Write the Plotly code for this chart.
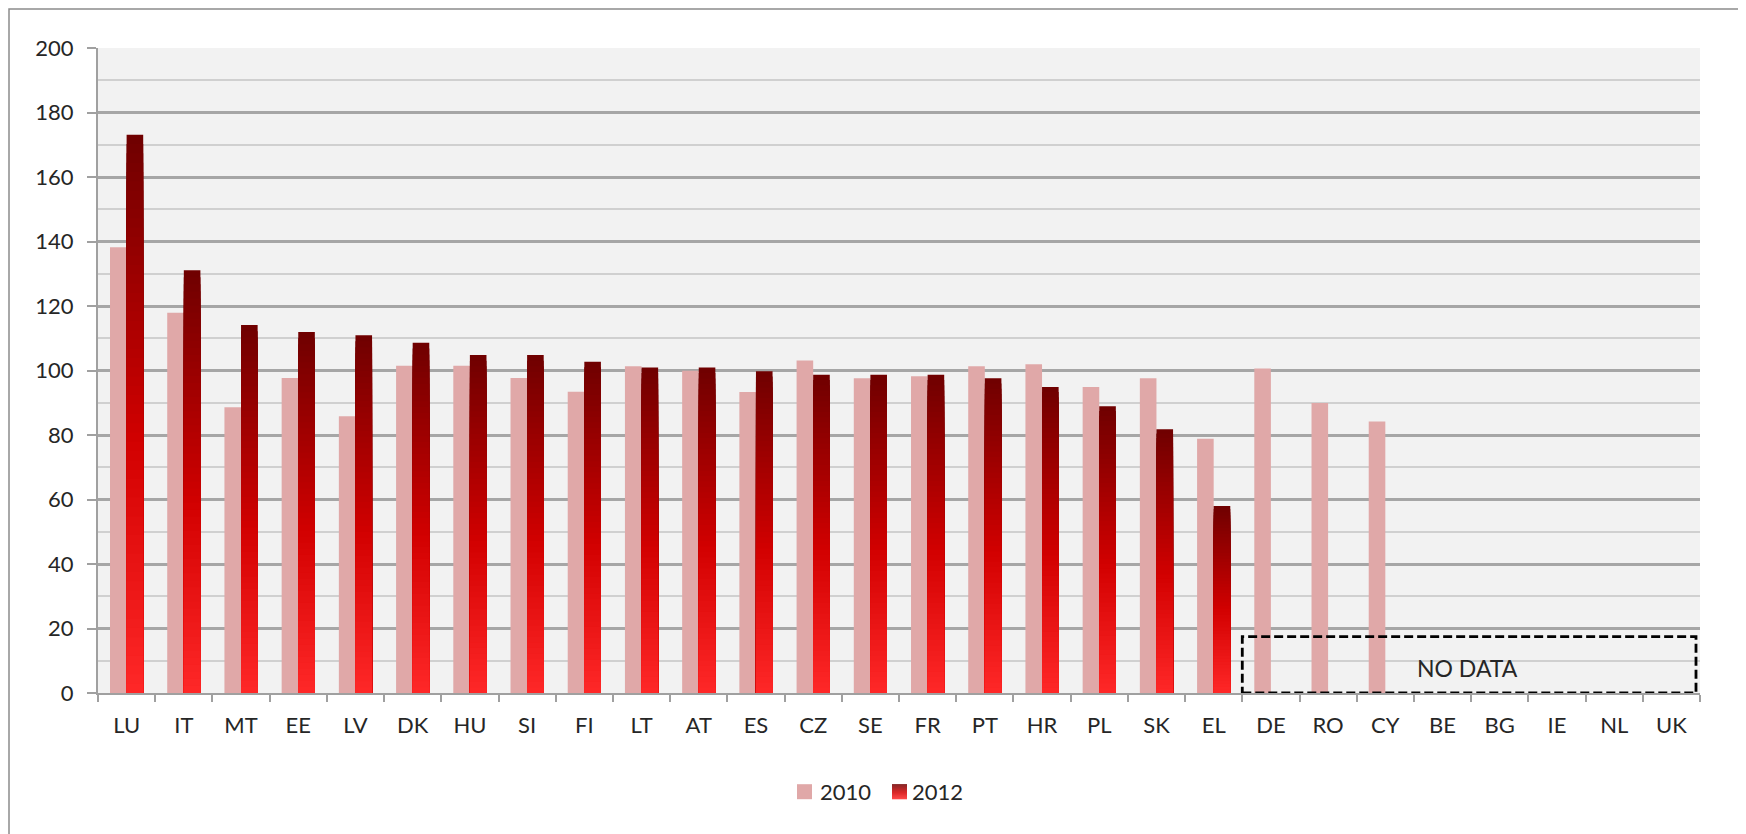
import plotly.graph_objects as go

countries = ["LU", "IT", "MT", "EE", "LV", "DK", "HU", "SI", "FI", "LT", "AT", "ES", "CZ", "SE",
             "FR", "PT", "HR", "PL", "SK", "EL", "DE", "RO", "CY", "BE", "BG", "IE", "NL", "UK"]
values_2010 = [138.2, 117.9, 88.6, 97.7, 85.8, 101.5, 101.5, 97.7, 93.4, 101.3, 99.9, 93.3, 103.1, 97.6,
               98.2, 101.3, 101.9, 94.9, 97.6, 78.8, 100.6, 89.9, 84.2, None, None, None, None, None]
values_2012 = [173.1, 131.1, 114.1, 111.9, 110.9, 108.6, 104.8, 104.8, 102.7, 100.9, 100.9, 99.8, 98.7, 98.7,
               98.7, 97.6, 94.9, 88.9, 81.8, 58.0, None, None, None, None, None, None, None, None]
years = ["2010", "2012"]
no_data_label = "NO DATA"

# page body has an 8px margin, so the figure is drawn offset by that much
OFF = 8
W, H = 1746 - OFF, 834 - OFF
ML, MR, MT, MB = 98 - OFF, 46, 48 - OFF, 141
PW, PH = W - ML - MR, H - MT - MB

FONT = "Lato, 'Open Sans', sans-serif"
TEXT = "#262626"
PINK = "#e0a8a8"

# gradient for the 2012 bars: bright red at the base, dark red at the top
STOPS = [(0.0, (255, 40, 40)), (0.45, (210, 0, 0)), (1.0, (110, 0, 0))]


def grad(t):
    for (t0, c0), (t1, c1) in zip(STOPS, STOPS[1:]):
        if t <= t1:
            f = (t - t0) / (t1 - t0)
            return "rgb(%d,%d,%d)" % tuple(round(a + (b - a) * f) for a, b in zip(c0, c1))
    return "rgb(%d,%d,%d)" % STOPS[-1][1]


# screen pixel -> paper fraction
def px(x):
    return (x - OFF - ML) / PW


def py(y):
    return (H - MB - (y - OFF)) / PH


fig = go.Figure()
fig.add_trace(go.Bar(x=countries, y=values_2010, name=years[0], marker=dict(color=PINK, line_width=0),
                     offsetgroup="a", showlegend=False))

N = 60
for k in range(N):
    frac = (N - k) / N
    ys = [None if v is None else v * frac for v in values_2012]
    fig.add_trace(go.Bar(x=countries, y=ys, name=years[1], offsetgroup="b",
                         marker=dict(color=grad((N - k - 0.5) / N), line_width=0),
                         showlegend=False, hoverinfo="skip" if k else None))

# NO DATA box
fig.add_shape(type="rect", xref="x", yref="y", x0=19.5, x1=27.43, y0=0, y1=17.5,
              line=dict(color="black", width=2.8, dash="9px,4px"), layer="above")
fig.add_annotation(x=23.43, y=7.9, xref="x", yref="y", text=no_data_label, showarrow=False,
                   font=dict(family=FONT, size=23, color=TEXT))

# outer chart border
fig.add_shape(type="rect", xref="paper", yref="paper", x0=px(9), x1=px(1745), y0=py(9), y1=py(845),
              line=dict(color="#8c8c8c", width=1.5))

# legend
sw = 15
cy = 791.7
fig.add_shape(type="rect", xref="paper", yref="paper", x0=px(797), x1=px(797 + sw),
              y0=py(cy - sw / 2), y1=py(cy + sw / 2), fillcolor=PINK, line_width=0)
fig.add_annotation(x=px(818), y=py(cy), xref="paper", yref="paper", text=years[0], showarrow=False,
                   xanchor="left", yanchor="middle", font=dict(family=FONT, size=22, color=TEXT))
for i in range(sw):
    fig.add_shape(type="rect", xref="paper", yref="paper", x0=px(892), x1=px(892 + sw),
                  y0=py(cy - sw / 2 + i), y1=py(cy - sw / 2 + i + 1.05),
                  fillcolor=grad(1 - (i + 0.5) / sw), line_width=0)
fig.add_annotation(x=px(910), y=py(cy), xref="paper", yref="paper", text=years[1], showarrow=False,
                   xanchor="left", yanchor="middle", font=dict(family=FONT, size=22, color=TEXT))

fig.update_layout(
    width=W, height=H,
    margin=dict(l=ML, r=MR, t=MT, b=MB),
    paper_bgcolor="white", plot_bgcolor="#f2f2f2",
    barmode="group", bargap=0.42, bargroupgap=0,
    showlegend=False,
    font=dict(family=FONT, size=22, color=TEXT),
)
fig.update_xaxes(
    type="category", range=[-0.5, 27.5], showgrid=False,
    showline=True, linecolor="#a0a0a0", linewidth=2,
    ticks="outside", tickson="boundaries", ticklen=7, tickcolor="#a0a0a0", tickwidth=1.5,
    ticklabelstandoff=12, tickfont=dict(size=22, color=TEXT),
)
fig.update_yaxes(
    range=[0, 200], dtick=20, zeroline=False,
    showgrid=True, gridcolor="#a6a6a6", gridwidth=2.5,
    minor=dict(dtick=10, showgrid=True, gridcolor="#d0d0d0", gridwidth=1.5),
    showline=True, linecolor="#a0a0a0", linewidth=2,
    ticks="outside", ticklen=9, tickcolor="#a0a0a0", tickwidth=1.5,
    ticklabelstandoff=9, tickfont=dict(size=22, color=TEXT),
)

fig.write_html("out.html")
